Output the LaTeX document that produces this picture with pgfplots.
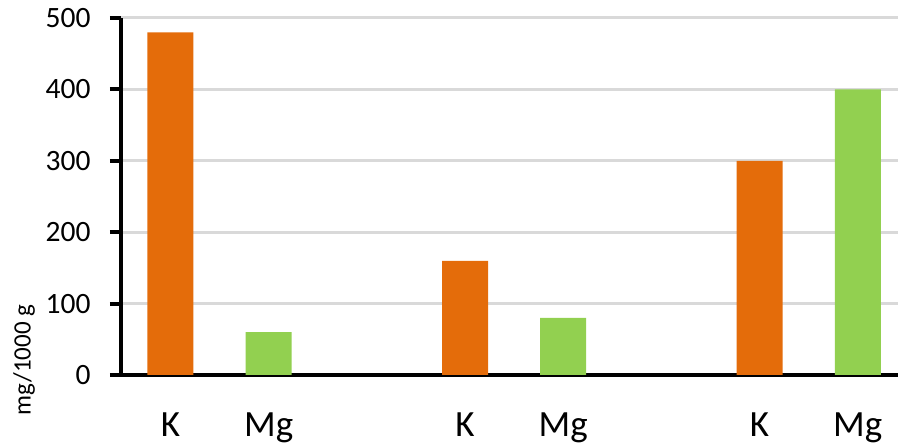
\documentclass[border=0pt]{standalone}
\usepackage{pgfplots}
\pgfplotsset{compat=1.18}
\usepackage{fontspec}
\setmainfont{Carlito}
\definecolor{korange}{HTML}{E46C0A}
\definecolor{mggreen}{HTML}{92D050}
\definecolor{gridgray}{HTML}{D9D9D9}
\begin{document}
\begin{tikzpicture}
\useasboundingbox (0,0) rectangle (898pt,446pt);
\begin{axis}[
  at={(121pt,71pt)}, anchor=south west,
  scale only axis, width=777pt, height=357pt,
  xmin=-0.504, xmax=7.41, ymin=0, ymax=500,
  axis lines*=left,
  axis line style={line width=4pt, black},
  ytick={0,100,200,300,400,500},
  ymajorgrids,
  grid style={line width=3pt, gridgray},
  xtick={0,1,3,4,6,7},
  xticklabels={K,Mg,K,Mg,K,Mg},
  xtick style={draw=none},
  ytick style={line width=4pt, black},
  tick align=outside,
  major tick length=11pt,
  /pgf/number format/assume math mode=true,
  yticklabel style={font=\fontsize{29.5}{34}\selectfont, xshift=-16pt},
  xticklabel style={font=\fontsize{37}{42}\selectfont, yshift=-23pt},
  clip=false,
]
\addplot[ybar, bar shift=0pt, bar width=46pt, fill=korange, draw=none]
  coordinates {(0,480) (3,160) (6,300)};
\addplot[ybar, bar shift=0pt, bar width=46pt, fill=mggreen, draw=none]
  coordinates {(1,60) (4,80) (7,400)};
\end{axis}
\node[rotate=90, font=\fontsize{25}{30}\selectfont] at (24pt,86pt) {mg/1000 g};
\end{tikzpicture}
\end{document}
